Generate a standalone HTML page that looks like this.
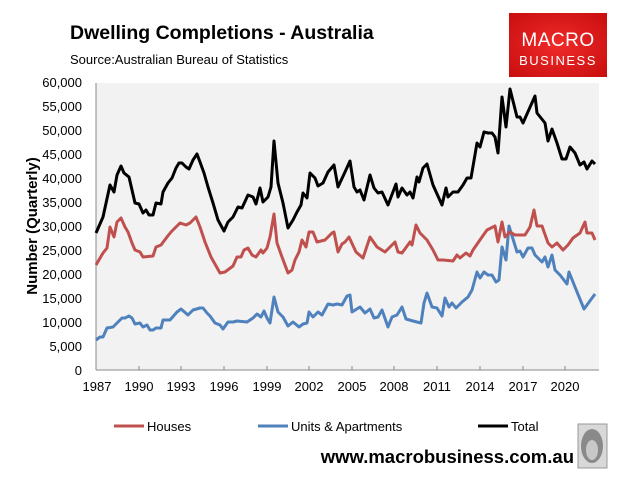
<!DOCTYPE html>
<html><head><style>
body{margin:0;background:#fff;width:617px;height:477px;overflow:hidden;font-family:"Liberation Sans","DejaVu Sans",sans-serif}
</style></head><body>
<svg width="617" height="477" xmlns="http://www.w3.org/2000/svg" font-family="Liberation Sans, DejaVu Sans, sans-serif">
<text x="70" y="39" font-size="19.5" font-weight="bold" fill="#000">Dwelling Completions - Australia</text>
<text x="70" y="64" font-size="13" fill="#000">Source:Australian Bureau of Statistics</text>
<defs><radialGradient id="rg" cx="50%" cy="50%" r="70%"><stop offset="0" stop-color="#f02a2a"/><stop offset="1" stop-color="#c80e0e"/></radialGradient></defs>
<rect x="509" y="13" width="98" height="64" fill="url(#rg)"/>
<text x="558" y="46" font-size="19" fill="#fff" text-anchor="middle" letter-spacing="0.5">MACRO</text>
<text x="558" y="65" font-size="13" fill="#fff" text-anchor="middle" letter-spacing="1.5">BUSINESS</text>
<rect x="96" y="83" width="503" height="287" fill="#f2f2f2"/>
<line x1="96" y1="83" x2="96" y2="370" stroke="#888"/>
<line x1="96" y1="370" x2="599" y2="370" stroke="#888"/>
<g stroke="#888">
<line x1="139" y1="370" x2="139" y2="366"/><line x1="181" y1="370" x2="181" y2="366"/><line x1="224" y1="370" x2="224" y2="366"/><line x1="267" y1="370" x2="267" y2="366"/><line x1="309" y1="370" x2="309" y2="366"/><line x1="352" y1="370" x2="352" y2="366"/><line x1="394" y1="370" x2="394" y2="366"/><line x1="437" y1="370" x2="437" y2="366"/><line x1="480" y1="370" x2="480" y2="366"/><line x1="523" y1="370" x2="523" y2="366"/><line x1="565" y1="370" x2="565" y2="366"/>
</g>
<g font-size="13" fill="#000" text-anchor="end">
<text x="82" y="87">60,000</text><text x="82" y="111">55,000</text><text x="82" y="135">50,000</text><text x="82" y="159">45,000</text><text x="82" y="183">40,000</text><text x="82" y="207">35,000</text><text x="82" y="231">30,000</text><text x="82" y="255">25,000</text><text x="82" y="279">20,000</text><text x="82" y="303">15,000</text><text x="82" y="327">10,000</text><text x="82" y="351">5,000</text><text x="82" y="375">0</text>
</g>
<g font-size="13" fill="#000" text-anchor="middle">
<text x="97" y="391">1987</text><text x="139" y="391">1990</text><text x="181" y="391">1993</text><text x="224" y="391">1996</text><text x="267" y="391">1999</text><text x="309" y="391">2002</text><text x="352" y="391">2005</text><text x="394" y="391">2008</text><text x="437" y="391">2011</text><text x="480" y="391">2014</text><text x="523" y="391">2017</text><text x="565" y="391">2020</text>
</g>
<text transform="translate(37,226) rotate(-90)" font-size="15" font-weight="bold" text-anchor="middle">Number (Quarterly)</text>
<g fill="none" stroke-width="3" stroke-linejoin="round">
<polyline stroke="#4f81bd" points="96,340 100,337 103,337 107,328 113,327 122,318 125,318 129,316 132,318 135,324 140,323 143,327 147,325 150,330 153,330 156,328 161,328 163,320 170,320 177,312 181,309 188,315 193,310 200,308 203,308 207,313 210,316 215,323 220,325 223,329 228,322 233,322 237,321 247,322 253,318 257,314 261,317 264,311 267,318 270,323 274,297 278,312 283,317 288,326 293,322 299,327 303,324 307,323 309,312 313,317 318,312 322,315 328,304 333,305 337,304 342,305 347,296 350,295 352,312 360,307 365,313 370,309 374,318 378,317 382,310 388,327 392,317 397,315 402,307 406,319 413,321 421,323 424,303 427,293 432,307 437,308 442,316 445,298 449,307 452,303 456,308 462,302 468,297 472,290 477,272 480,278 484,272 488,275 492,275 496,282 499,280 502,247 506,260 509,226 517,252 520,251 523,257 528,248 532,248 535,255 538,258 542,262 545,257 548,267 552,255 555,270 560,275 567,284 569,272 575,287 584,309 595,294"/>
<polyline stroke="#c0504d" points="96,265 103,253 107,248 110,227 114,237 117,222 121,218 125,227 128,232 132,243 135,250 140,252 143,257 153,256 156,247 161,245 167,237 171,232 180,223 186,225 190,223 196,217 200,227 205,242 211,257 220,273 225,272 233,266 237,257 241,257 244,250 248,248 252,255 256,257 261,250 263,253 267,248 270,237 274,214 277,243 282,257 288,273 292,270 295,260 299,252 302,240 306,247 309,232 313,232 317,242 325,240 332,233 334,232 338,252 342,244 345,242 349,237 356,252 363,258 370,237 377,247 385,252 395,242 398,252 402,253 410,242 412,245 416,225 420,233 427,240 433,250 438,260 443,260 453,261 457,255 460,258 466,253 470,256 473,250 482,237 487,230 495,226 498,242 502,222 505,237 510,232 515,235 525,235 530,227 534,210 537,226 542,226 548,243 552,247 557,243 563,250 568,245 573,238 580,233 585,222 587,233 592,233 595,240"/>
<polyline stroke="#000" points="96,233 103,217 110,185 114,192 117,175 121,166 124,173 129,177 135,203 139,204 143,213 146,210 149,215 153,215 156,203 161,204 163,192 168,183 172,178 176,168 179,163 182,163 186,167 189,169 193,160 197,154 200,162 204,173 208,187 213,203 218,220 224,231 228,222 233,217 238,207 242,208 248,195 253,197 256,204 260,188 263,202 268,197 271,187 274,141 278,183 283,203 288,228 293,220 297,212 301,205 303,193 307,198 310,173 315,178 318,186 323,183 328,172 334,165 338,187 345,172 350,161 354,187 357,192 360,190 364,200 370,175 374,188 378,193 382,192 388,205 396,184 398,197 402,188 407,195 410,192 413,198 417,177 419,182 423,168 427,164 433,185 442,205 446,188 448,197 453,192 458,192 463,185 467,178 471,178 477,143 480,147 484,132 488,133 492,133 495,137 498,153 502,97 506,127 510,89 517,117 520,117 523,123 535,96 537,113 545,123 548,141 552,129 557,143 562,159 566,159 570,147 575,153 580,165 584,162 587,169 592,161 595,164"/>
</g>
<line x1="114" y1="426" x2="144" y2="426" stroke="#c0504d" stroke-width="3"/>
<text x="147" y="431" font-size="13">Houses</text>
<line x1="258" y1="426" x2="288" y2="426" stroke="#4f81bd" stroke-width="3"/>
<text x="291" y="431" font-size="13">Units &amp; Apartments</text>
<line x1="478" y1="426" x2="508" y2="426" stroke="#000" stroke-width="3"/>
<text x="511" y="431" font-size="13">Total</text>
<text x="574" y="463" font-size="18.5" font-weight="bold" text-anchor="end">www.macrobusiness.com.au</text>
<rect x="578" y="424" width="29" height="44" fill="#d8d8d8" stroke="#999"/>
<ellipse cx="592" cy="446" rx="11" ry="17" fill="#8a8a8a"/>
<ellipse cx="592" cy="450" rx="6" ry="10" fill="#c8c8c8"/>
</svg>
</body></html>
